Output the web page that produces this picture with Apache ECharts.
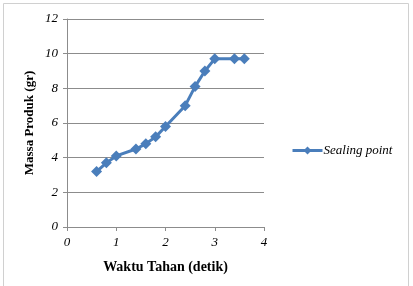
<!DOCTYPE html>
<html><head><meta charset="utf-8">
<script src="https://cdn.jsdelivr.net/npm/echarts@6/dist/echarts.min.js"></script>
<style>html,body{margin:0;padding:0;background:#fff}#c{width:413px;height:286px}</style>
</head><body><div id="c"></div>
<script>
var waktu = [0.6, 0.8, 1.0, 1.4, 1.6, 1.8, 2.0, 2.4, 2.6, 2.8, 3.0, 3.4, 3.6];
var massa = [3.2, 3.7, 4.1, 4.5, 4.8, 5.2, 5.8, 7.0, 8.1, 9.0, 9.7, 9.7, 9.7];
var seriesName = 'Sealing point';
var xTitle = 'Waktu Tahan (detik)';
var yTitle = 'Massa Produk (gr)';

var chart = echarts.init(document.getElementById('c'), null, {renderer: 'canvas'});
var pts = waktu.map(function (x, i) { return [x, massa[i]]; });
var serif = '"Liberation Serif", "DejaVu Serif", serif';
chart.setOption({
  animation: false,
  backgroundColor: '#fff',
  graphic: [{
    type: 'rect', shape: {x: 3.5, y: 3.5, width: 405, height: 290},
    style: {fill: 'none', stroke: '#d0d0d0', lineWidth: 1}
  }],
  grid: {left: 67, top: 19, width: 197, height: 208},
  legend: {
    left: 286, top: 139, itemWidth: 30, itemHeight: 10, itemGap: 4,
    lineStyle: {width: 3, color: '#4a7ebb'},
    textStyle: {fontFamily: serif, fontStyle: 'italic', fontSize: 13, color: '#000', padding: [0, 0, 0, -4]},
    data: [{name: seriesName}]
  },
  xAxis: {
    type: 'value', min: 0, max: 4, interval: 1,
    name: xTitle, nameLocation: 'middle', nameGap: 33,
    nameTextStyle: {fontFamily: serif, fontWeight: 'bold', fontSize: 14, color: '#000'},
    axisLine: {show: true, lineStyle: {color: '#8c8c8c', width: 1}},
    axisTick: {show: true, length: 4, lineStyle: {color: '#8c8c8c'}},
    axisLabel: {fontFamily: serif, fontStyle: 'italic', fontSize: 13, color: '#000', margin: 9},
    splitLine: {show: false}
  },
  yAxis: {
    type: 'value', min: 0, max: 12, interval: 2,
    name: yTitle, nameLocation: 'middle', nameGap: 31, nameRotate: 90,
    nameTextStyle: {fontFamily: serif, fontWeight: 'bold', fontSize: 13, color: '#000'},
    axisLine: {show: true, lineStyle: {color: '#8c8c8c', width: 1}},
    axisTick: {show: true, length: 4, lineStyle: {color: '#8c8c8c'}},
    axisLabel: {fontFamily: serif, fontStyle: 'italic', fontSize: 13, color: '#000', margin: 9},
    splitLine: {show: true, lineStyle: {color: '#8c8c8c', width: 1}}
  },
  series: [{
    name: seriesName, type: 'line', data: pts,
    symbol: 'diamond', symbolSize: 11,
    lineStyle: {color: '#4a7ebb', width: 3},
    itemStyle: {color: '#4a7ebb'}
  }]
});
</script></body></html>
